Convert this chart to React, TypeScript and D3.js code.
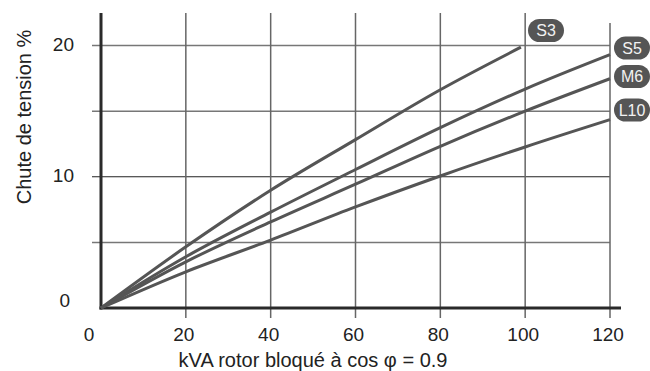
import React, { useEffect, useRef } from 'react';
import * as d3 from 'd3';

// kVA values where the curves were read
const kva = [0, 20, 40, 60, 80, 100, 120];
const s3Kva = [0, 20, 40, 60, 80, 99];

const s3 = [0, 4.66, 8.97, 12.83, 16.63, 19.87];
const s5 = [0, 3.9, 7.3, 10.55, 13.74, 16.68, 19.3];
const m6 = [0, 3.52, 6.56, 9.43, 12.32, 15.0, 17.47];
const l10 = [0, 2.76, 5.17, 7.7, 10.06, 12.27, 14.35];

const xTicks = [0, 20, 40, 60, 80, 100, 120];
const yTicks = [0, 10, 20];
const yGrid = [5, 10, 15, 20];

const series = [
  { name: 'S3', xs: s3Kva, ys: s3 },
  { name: 'S5', xs: kva, ys: s5 },
  { name: 'M6', xs: kva, ys: m6 },
  { name: 'L10', xs: kva, ys: l10 },
];

const App = () => {
  const svgRef = useRef<SVGSVGElement>(null);

  useEffect(() => {
    const width = 650;
    const height = 371;
    const svg = d3.select(svgRef.current);
    svg.selectAll('*').remove();
    svg.attr('width', width).attr('height', height);

    const font = 'Arial, "Liberation Sans", sans-serif';

    const x = d3.scaleLinear().domain([0, 120]).range([101, 610]);
    const y = d3.scaleLinear().domain([0, 20]).range([308, 45.5]);

    // horizontal grid
    svg
      .append('g')
      .selectAll('line')
      .data(yGrid)
      .enter()
      .append('line')
      .attr('x1', 92)
      .attr('x2', x(120))
      .attr('y1', d => y(d))
      .attr('y2', d => y(d))
      .attr('stroke', d => (d === 10 ? '#222' : '#777'))
      .attr('stroke-width', d => (d === 10 ? 1.2 : 1.5));

    // vertical grid
    svg
      .append('g')
      .selectAll('line')
      .data(xTicks.filter(d => d > 0))
      .enter()
      .append('line')
      .attr('x1', d => x(d))
      .attr('x2', d => x(d))
      .attr('y1', d => (d === 120 ? 23 : 13))
      .attr('y2', 318)
      .attr('stroke', '#666')
      .attr('stroke-width', 1.5);

    // axes
    svg
      .append('line')
      .attr('x1', x(0))
      .attr('x2', x(0))
      .attr('y1', 13)
      .attr('y2', y(0) + 1.5)
      .attr('stroke', '#2a2a2a')
      .attr('stroke-width', 3);
    svg
      .append('line')
      .attr('x1', x(0) - 1.5)
      .attr('x2', 621)
      .attr('y1', y(0))
      .attr('y2', y(0))
      .attr('stroke', '#2a2a2a')
      .attr('stroke-width', 3);

    // curves
    const line = d3
      .line<[number, number]>()
      .x(d => x(d[0]))
      .y(d => y(d[1]))
      .curve(d3.curveMonotoneX);

    svg
      .append('g')
      .selectAll('path')
      .data(series)
      .enter()
      .append('path')
      .attr('d', d => line(d.xs.map((v, i) => [v, d.ys[i]] as [number, number])))
      .attr('fill', 'none')
      .attr('stroke', '#555')
      .attr('stroke-width', 3);

    // curve labels
    const labels = [
      { name: 'S3', cx: 546, cy: 30.5 },
      { name: 'S5', cx: 632, cy: 48 },
      { name: 'M6', cx: 632, cy: 76.5 },
      { name: 'L10', cx: 632, cy: 110 },
    ];
    const lab = svg
      .append('g')
      .selectAll('g')
      .data(labels)
      .enter()
      .append('g')
      .attr('transform', d => `translate(${d.cx}, ${d.cy})`);
    lab
      .append('rect')
      .attr('x', -18)
      .attr('y', -11.5)
      .attr('width', 36)
      .attr('height', 23)
      .attr('rx', 11.5)
      .attr('fill', '#555');
    lab
      .append('text')
      .attr('text-anchor', 'middle')
      .attr('dy', 5.5)
      .attr('fill', '#f2f2f2')
      .style('font-family', font)
      .style('font-size', '16px')
      .text(d => d.name);

    // x tick labels
    svg
      .append('g')
      .selectAll('text')
      .data(xTicks)
      .enter()
      .append('text')
      .attr('x', d => (d === 0 ? x(d) - 12 : x(d) - 2))
      .attr('y', 341)
      .attr('text-anchor', 'middle')
      .attr('fill', '#222')
      .style('font-family', font)
      .style('font-size', '19px')
      .text(d => d);

    // y tick labels
    svg
      .append('g')
      .selectAll('text')
      .data(yTicks)
      .enter()
      .append('text')
      .attr('x', d => (d === 0 ? 70 : 74))
      .attr('y', d => (d === 0 ? y(d) - 1 : y(d) + 5))
      .attr('text-anchor', 'end')
      .attr('fill', '#222')
      .style('font-family', font)
      .style('font-size', '19px')
      .text(d => d);

    // x axis title
    svg
      .append('text')
      .attr('x', 313)
      .attr('y', 367)
      .attr('text-anchor', 'middle')
      .attr('fill', '#222')
      .style('font-family', font)
      .style('font-size', '20px')
      .text('kVA rotor bloqué à cos φ = 0.9');

    // y axis title
    svg
      .append('text')
      .attr('transform', 'rotate(-90)')
      .attr('x', -117)
      .attr('y', 31)
      .attr('text-anchor', 'middle')
      .attr('fill', '#222')
      .style('font-family', font)
      .style('font-size', '20px')
      .text('Chute de tension %');
  }, []);

  return <svg ref={svgRef} style={{ position: 'absolute', left: 0, top: 0 }}></svg>;
};

export default App;
